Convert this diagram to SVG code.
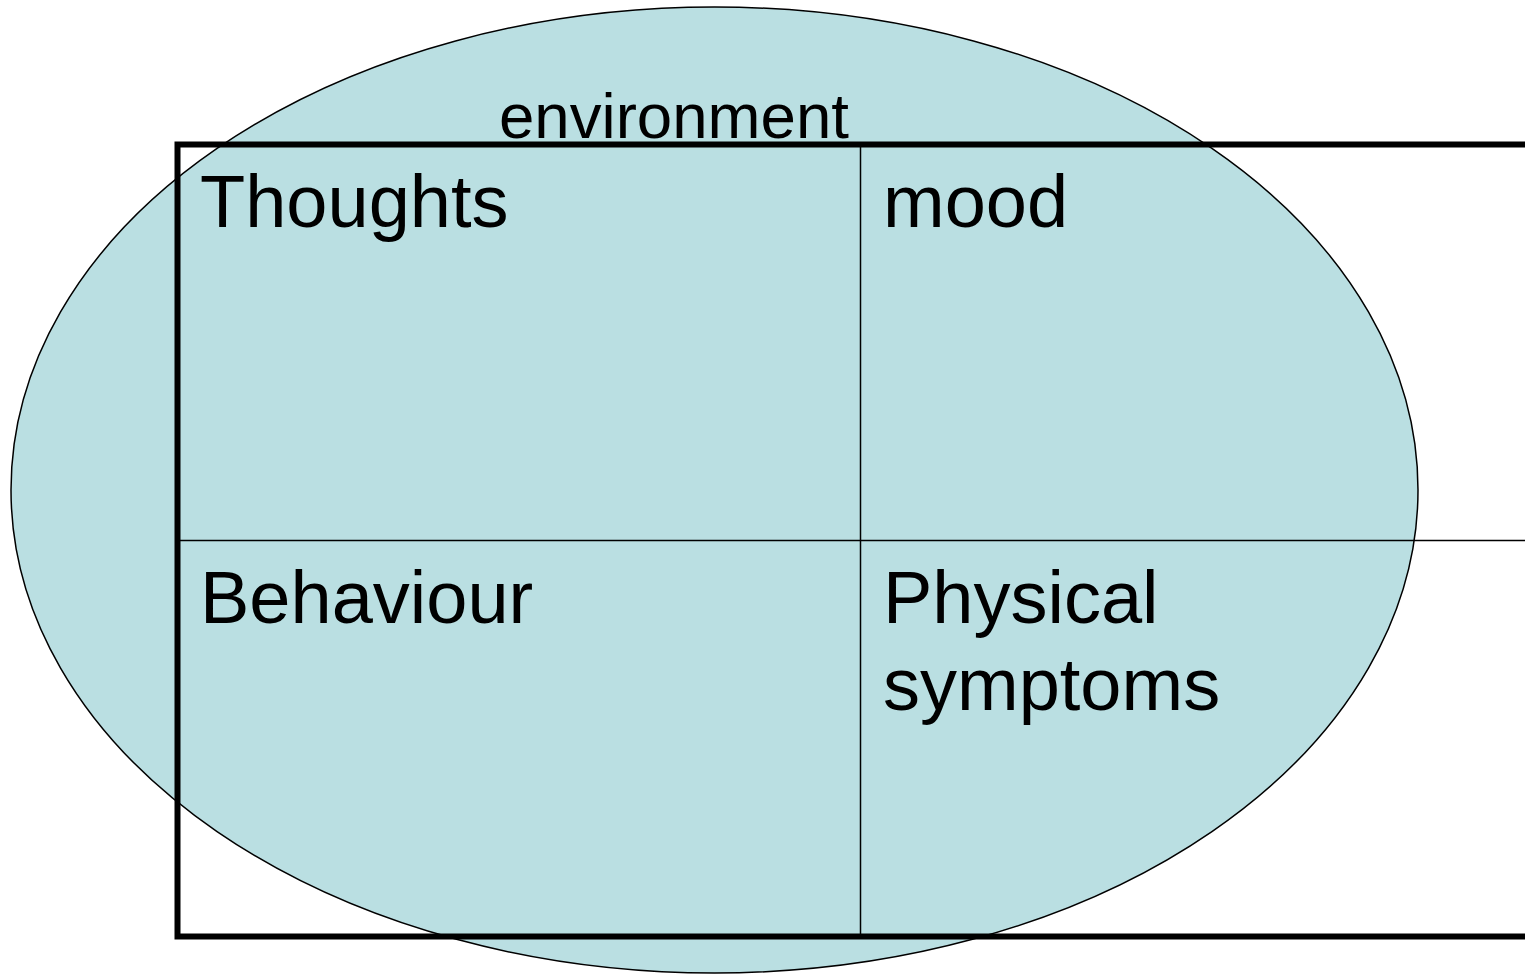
<svg xmlns="http://www.w3.org/2000/svg" width="1525" height="974" viewBox="0 0 1525 974">
  <style>
    .label { font-family: "Liberation Sans", Arial, sans-serif; fill: #000; }
    .big { font-size: 74px; }
    .env { font-size: 63.6px; }
    .thin { stroke: #000; stroke-width: 1.5; fill: none; }
  </style>
  <rect width="1525" height="974" fill="#ffffff"/>
  <g id="environment">
    <ellipse cx="714.5" cy="490" rx="703.5" ry="483" fill="#badfe2" stroke="#000" stroke-width="1.5"/>
    <text class="label env" x="499" y="138">environment</text>
  </g>
  <g id="connectors">
    <line class="thin" x1="860.5" y1="147" x2="860.5" y2="934"/>
    <line class="thin" x1="180" y1="540.5" x2="1525" y2="540.5"/>
  </g>
  <g id="frame">
    <rect x="177.5" y="144.5" width="1400" height="792" fill="none" stroke="#000" stroke-width="6"/>
  </g>
  <g id="thoughts">
    <text class="label big" x="200" y="227">Thoughts</text>
  </g>
  <g id="mood">
    <text class="label big" x="883" y="227">mood</text>
  </g>
  <g id="behaviour">
    <text class="label big" x="200" y="623">Behaviour</text>
  </g>
  <g id="physical-symptoms">
    <text class="label big" x="883" y="623">Physical</text>
    <text class="label big" x="883" y="710">symptoms</text>
  </g>
</svg>
